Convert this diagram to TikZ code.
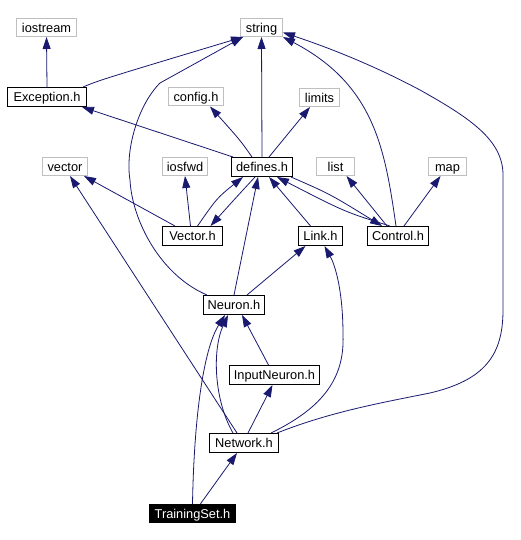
\documentclass[tikz,border=0pt]{standalone}
\usepackage{fontspec}
\setmainfont{Liberation Sans}
\usetikzlibrary{arrows.meta,calc}
\definecolor{edgecol}{HTML}{191970}
\definecolor{extgray}{HTML}{BFBFBF}
\begin{document}
\begin{tikzpicture}[x=1pt,y=-1pt,
  every node/.style={font=\fontsize{12.8}{15}\selectfont, inner sep=0pt, text height=9.5pt, text depth=0pt},
  hdr/.style={draw=black, line width=1pt, minimum height=19pt},
  ext/.style={draw=extgray, line width=1pt, minimum height=18pt},
  edge/.style={draw=edgecol, line width=0.8pt, -{Triangle[length=12pt,width=8pt]}}]
\fill[white] (0,0) rectangle (521,540);
\useasboundingbox (0,0) rectangle (521,540);
% nodes
\node[ext, minimum width=60pt] (iostream) at (46.5,27.5) {iostream};
\node[ext, minimum width=42pt] (string) at (261.5,27.5) {string};
\node[hdr, minimum width=79pt] (exception) at (47,97) {Exception.h};
\node[ext, minimum width=55pt] (config) at (196,97) {config.h};
\node[ext, minimum width=40pt] (limits) at (319.5,97.5) {limits};
\node[ext, minimum width=45pt] (vector) at (65,166.5) {vector};
\node[ext, minimum width=45pt] (iosfwd) at (185,166.5) {iosfwd};
\node[hdr, minimum width=61pt] (defines) at (262,167) {defines.h};
\node[ext, minimum width=38pt] (list) at (335.5,166.5) {list};
\node[ext, minimum width=38pt] (map) at (447.5,166.5) {map};
\node[hdr, minimum width=60pt] (vectorh) at (192.5,236) {Vector.h};
\node[hdr, minimum width=44pt] (link) at (320.5,236) {Link.h};
\node[hdr, minimum width=61pt] (control) at (398,236) {Control.h};
\node[hdr, minimum width=61pt] (neuron) at (234,305) {Neuron.h};
\node[hdr, minimum width=90pt] (input) at (274.5,375) {InputNeuron.h};
\node[hdr, minimum width=69pt] (network) at (244,443) {Network.h};
\node[fill=black, text=white, minimum width=87pt, minimum height=19pt] (training) at (192.5,513.5) {TrainingSet.h};
% edges
\draw[edge] (exception.north) -- (iostream.south);
\draw[edge] ($(exception.north)+(36,0)$) .. controls (100,80) .. ($(string.south)+(-18.5,0)$);
\draw[edge] ($(defines.north)+(-29,0)$) -- ($(exception.south)+(35,0)$);
\draw[edge] ($(defines.north)+(-10,0)$) .. controls (240,140) .. ($(config.south)+(14,0)$);
\draw[edge] (defines.north) -- (string.south);
\draw[edge] ($(defines.north)+(7,0)$) -- ($(limits.south)+(-9.5,0)$);
\draw[edge] ($(vectorh.north)+(-17.5,0)$) -- ($(vector.south)+(19,0)$);
\draw[edge] ($(vectorh.north)+(-2,0)$) -- (iosfwd.south);
\draw[edge] ($(vectorh.north)+(5,0)$) .. controls (217,198) .. ($(defines.south)+(-19,0)$);
\draw[edge] ($(defines.south)+(-7,0)$) .. controls (232,202) .. ($(vectorh.north)+(18,0)$);
\draw[edge] ($(link.north)+(-10,0)$) -- ($(defines.south)+(7,0)$);
\draw[edge] ($(defines.south east)+(-2,0)$) .. controls (330,194) .. ($(control.north)+(-16,0)$);
\draw[edge] ($(control.north)+(-8,0)$) .. controls (345,212) .. ($(defines.south)+(15,0)$);
\draw[edge] ($(control.north)+(-11,0)$) -- ($(list.south)+(11,0)$);
\draw[edge] ($(control.north)+(6,0)$) -- ($(map.south)+(-7,0)$);
\draw[edge] ($(control.north)+(-2,0)$) .. controls (385,150) and (375,85) .. (string.south east);
\draw[edge] ($(neuron.north west)+(4,0)$) .. controls (160,275) and (132,220) .. (130,180)
  .. controls (125,150) and (138,105) .. (160,83) -- ($(string.south)+(-18.5,0)$);
\draw[edge] (neuron.north) -- ($(defines.south)+(-4,0)$);
\draw[edge] ($(neuron.north)+(13,0)$) -- ($(link.south)+(-15,0)$);
\draw[edge] ($(input.north)+(-6,0)$) -- ($(neuron.south)+(8,0)$);
\draw[edge] ($(network.north)+(-7,0)$) -- ($(vector.south)+(5,0)$);
\draw[edge] ($(network.north)+(-11,0)$) .. controls (214,400) and (212,350) .. ($(neuron.south)+(-6,0)$);
\draw[edge] ($(network.north)+(4,0)$) -- ($(input.south)+(-2,0)$);
\draw[edge] ($(network.north)+(27,0)$) .. controls (318,410) and (345,382) .. (343,335)
  .. controls (343,290) and (335,265) .. ($(link.south)+(4,0)$);
\draw[edge] ($(network.north)+(33,0)$) .. controls (330,412) and (380,403) .. (430,393)
  .. controls (485,380) and (503,355) .. (503,310) -- (503,175)
  .. controls (503,140) and (470,118) .. (420,90)
  .. controls (375,66) and (330,48) .. ($(string.east)+(0,5)$);
\draw[edge] ($(training.north)+(0,0)$) .. controls (194,420) and (203,350) .. ($(neuron.south)+(-9,0)$);
\draw[edge] ($(training.north)+(8,0)$) -- ($(network.south)+(-7,0)$);
\end{tikzpicture}
\end{document}
